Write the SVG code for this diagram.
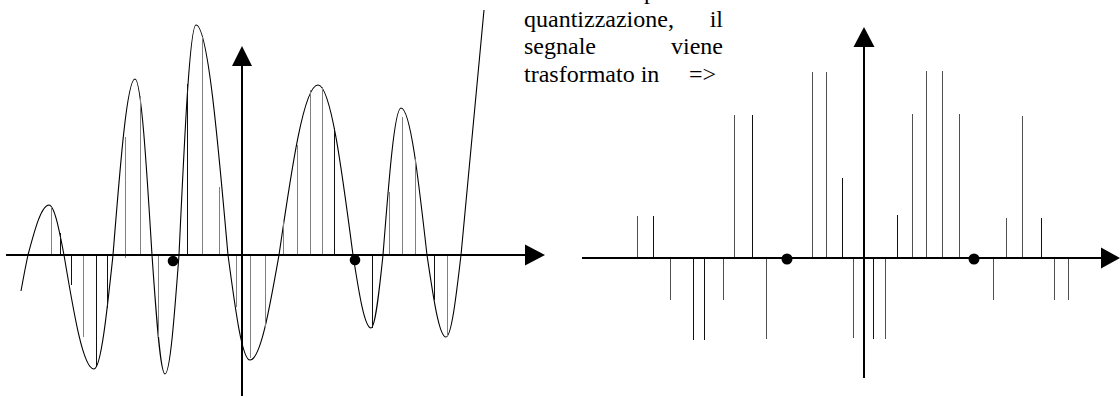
<svg xmlns="http://www.w3.org/2000/svg" width="1120" height="397" viewBox="0 0 1120 397">
<style>
.ax{stroke:#000;stroke-width:2;fill:none}
.ah{fill:#000;stroke:none}
.cv{stroke:#000;stroke-width:1.1;fill:none}
.g{stroke:#808080;stroke-width:1}
.k{stroke:#111;stroke-width:1}
.rg{stroke:#505050;stroke-width:1}
.rk{stroke:#111;stroke-width:1}
.dot{fill:#000}
.t{font-family:"Liberation Serif","Times New Roman",serif;font-size:24px;fill:#000}
</style>
<rect width="1120" height="397" fill="#fff"/>
<g id="left-plot">
<path class="cv" d="M21,291 C23,280 26,264 28,255 C34.8,229.4 41.4,205 49,205 C54.4,205 59.1,229.4 64,255 C73.8,313.4 83.1,369 94,369 C100.9,369 106.8,313.4 113,255 C120.2,164.8 127,79 135,79 C141.2,79 146.5,164.8 152,255 C156.2,316 160.3,374 165,374 C170.1,374 174.4,316 179,255 C184.5,137.2 189.8,25 196,25 C207.6,25 217.6,137.2 228,255 C235.2,308.8 242,360 250,360 C260.5,360 269.5,308.8 279,255 C291.7,167.9 303.9,85 318,85 C330.7,85 341.6,167.9 353,255 C358.9,292.4 364.5,328 371,328 C375.3,328 379.1,292.4 383,255 C388.9,179.7 394.5,108 401,108 C410.4,108 418.5,179.7 427,255 C433.2,297 439.1,337 446,337 C451.4,337 456.1,297 461,255 C464,228 474,120 484,10"/>
<g id="left-samples">
<line class="g" x1="51.5" y1="255" x2="51.5" y2="207"/>
<line class="k" x1="60.5" y1="255" x2="60.5" y2="233"/>
<line class="k" x1="71.5" y1="255" x2="71.5" y2="285"/>
<line class="g" x1="83.5" y1="255" x2="83.5" y2="337"/>
<line class="k" x1="96.5" y1="255" x2="96.5" y2="367"/>
<line class="k" x1="107.5" y1="255" x2="107.5" y2="308"/>
<line class="g" x1="125.5" y1="258" x2="125.5" y2="137"/>
<line class="g" x1="140.5" y1="255" x2="140.5" y2="96"/>
<line class="g" x1="158.5" y1="255" x2="158.5" y2="337"/>
<line class="k" x1="187.5" y1="255" x2="187.5" y2="84"/>
<line class="g" x1="202.5" y1="255" x2="202.5" y2="37"/>
<line class="g" x1="219.5" y1="255" x2="219.5" y2="187"/>
<line class="g" x1="236.5" y1="255" x2="236.5" y2="307"/>
<line class="g" x1="250.5" y1="255" x2="250.5" y2="358"/>
<line class="g" x1="265.5" y1="255" x2="265.5" y2="327"/>
<line class="g" x1="283.5" y1="255" x2="283.5" y2="220"/>
<line class="g" x1="297.5" y1="255" x2="297.5" y2="145"/>
<line class="g" x1="310.5" y1="255" x2="310.5" y2="90"/>
<line class="g" x1="322.5" y1="255" x2="322.5" y2="87"/>
<line class="k" x1="334.5" y1="255" x2="334.5" y2="128"/>
<line class="k" x1="372.5" y1="255" x2="372.5" y2="328"/>
<line class="g" x1="389.5" y1="255" x2="389.5" y2="192"/>
<line class="g" x1="402.5" y1="255" x2="402.5" y2="117"/>
<line class="g" x1="415.5" y1="255" x2="415.5" y2="159"/>
<line class="k" x1="434.5" y1="255" x2="434.5" y2="300"/>
<line class="g" x1="447.5" y1="255" x2="447.5" y2="337"/>
</g>
<circle class="dot" cx="173" cy="261" r="5.3"/>
<circle class="dot" cx="355" cy="260" r="5.3"/>
</g>
<g id="right-plot">
<line class="rg" x1="637.5" y1="258" x2="637.5" y2="216"/>
<line class="rk" x1="653.5" y1="258" x2="653.5" y2="216"/>
<line class="rg" x1="670.5" y1="258" x2="670.5" y2="300"/>
<line class="rk" x1="693.5" y1="258" x2="693.5" y2="340"/>
<line class="rk" x1="704.5" y1="258" x2="704.5" y2="340"/>
<line class="rg" x1="723.5" y1="258" x2="723.5" y2="300"/>
<line class="rg" x1="734.5" y1="258" x2="734.5" y2="115"/>
<line class="rk" x1="752.5" y1="258" x2="752.5" y2="115"/>
<line class="rg" x1="766.5" y1="258" x2="766.5" y2="339"/>
<line class="rg" x1="812.5" y1="258" x2="812.5" y2="72"/>
<line class="rg" x1="826.5" y1="258" x2="826.5" y2="72"/>
<line class="rk" x1="842.5" y1="258" x2="842.5" y2="178"/>
<line class="rg" x1="853.5" y1="258" x2="853.5" y2="338"/>
<line class="rk" x1="873.5" y1="258" x2="873.5" y2="339"/>
<line class="rg" x1="885.5" y1="258" x2="885.5" y2="339"/>
<line class="rk" x1="897.5" y1="258" x2="897.5" y2="215"/>
<line class="rg" x1="912.5" y1="258" x2="912.5" y2="114"/>
<line class="rg" x1="926.5" y1="258" x2="926.5" y2="71"/>
<line class="rg" x1="942.5" y1="258" x2="942.5" y2="71"/>
<line class="rg" x1="959.5" y1="258" x2="959.5" y2="114"/>
<line class="rg" x1="993.5" y1="258" x2="993.5" y2="300"/>
<line class="rg" x1="1006.5" y1="258" x2="1006.5" y2="218"/>
<line class="rg" x1="1022.5" y1="258" x2="1022.5" y2="116"/>
<line class="rk" x1="1041.5" y1="258" x2="1041.5" y2="218"/>
<line class="rg" x1="1054.5" y1="258" x2="1054.5" y2="300"/>
<line class="rg" x1="1068.5" y1="258" x2="1068.5" y2="300"/>
<circle class="dot" cx="787" cy="259" r="5.5"/>
<circle class="dot" cx="974" cy="259" r="5.5"/>
</g>
<g id="connectors">
<line class="ax" x1="6" y1="255" x2="527" y2="255"/>
<polygon class="ah" points="525,244.5 545,255 525,265.5"/>
<line class="ax" x1="242" y1="64" x2="242" y2="396"/>
<polygon class="ah" points="232,66 242,46 252,66"/>
<line class="ax" x1="582" y1="258" x2="1103" y2="258"/>
<polygon class="ah" points="1101,247.5 1120,258 1101,268.5"/>
<line class="ax" x1="864" y1="45" x2="864" y2="378"/>
<polygon class="ah" points="853.5,47 864,27 874.5,47"/>
</g>
<g id="caption">
<text class="t" x="644" y="-1">p</text>
<text class="t" x="524" y="26.5">quantizzazione,</text>
<text class="t" x="723" y="26.5" text-anchor="end">il</text>
<text class="t" x="524" y="54">segnale</text>
<text class="t" x="723" y="54" text-anchor="end">viene</text>
<text class="t" x="524" y="81.5">trasformato in</text>
<text class="t" x="689" y="81.5">=&gt;</text>
</g>
</svg>
